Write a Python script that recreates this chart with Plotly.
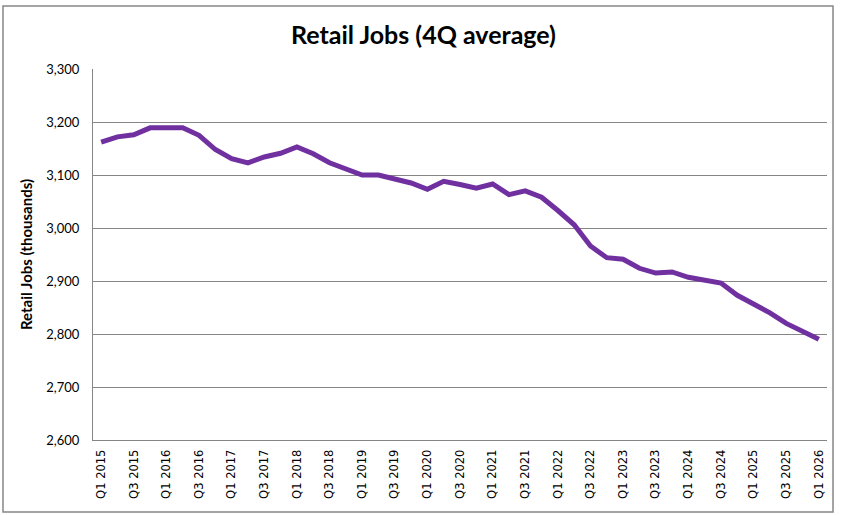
import plotly.graph_objects as go

# quarterly retail jobs, 4Q average (thousands)
quarters = [f"Q{q} {y}" for y in range(2015, 2027) for q in (1, 2, 3, 4)][:45]
jobs = [3162, 3172, 3176, 3189, 3189, 3189, 3175, 3148,
        3131, 3123, 3134, 3141, 3153, 3140, 3123, 3111,
        3100, 3100, 3093, 3085, 3073, 3088, 3082, 3075,
        3083, 3063, 3070, 3058, 3033, 3006, 2966, 2944,
        2941, 2924, 2915, 2917, 2907, 2902, 2896, 2873,
        2856, 2840, 2820, 2806, 2790]
tick_labels = quarters[::2]
y_ticks = list(range(2600, 3301, 100))

fig = go.Figure()
fig.add_trace(go.Scatter(x=quarters, y=jobs, mode="lines",
                         line=dict(color="#7030A0", width=5)))

# plot area is 93..827 px wide, 69..440 px tall
L, R, T, B = 93, 827, 69, 440
def px(x):
    return (x - L) / (R - L)
def py(y):
    return (B - y) / (B - T)

fig.update_layout(
    width=847, height=515,
    margin=dict(l=L, r=847 - R, t=T, b=515 - B),
    paper_bgcolor="white", plot_bgcolor="white",
    showlegend=False,
    font=dict(family="DejaVu Sans", color="#000000"),
    title=dict(text="<b>Retail Jobs (4Q average)</b>", x=0.5, xanchor="center",
               y=1 - 35 / 515, yanchor="middle",
               font=dict(family="Lato", size=25, color="#000000")),
    xaxis=dict(type="category", range=[-0.5, 44.5], tickvals=tick_labels,
               ticktext=tick_labels, tickangle=-90, showgrid=False,
               showline=True, linecolor="#868686", linewidth=1,
               ticks="", automargin=False, ticklabelstandoff=4,
               tickfont=dict(family="DejaVu Sans", size=11.5)),
    yaxis=dict(range=[2600, 3300], tickvals=y_ticks,
               ticktext=[f"{v:,}" for v in y_ticks],
               showgrid=True, gridcolor="#868686", gridwidth=1,
               showline=True, linecolor="#868686", linewidth=1,
               zeroline=False, ticks="", automargin=False,
               ticklabelstandoff=10,
               tickfont=dict(family="Lato", size=13),
               title=dict(text="<b>Retail Jobs (thousands)</b>", standoff=10,
                          font=dict(family="Lato", size=15))),
    shapes=[dict(type="rect", xref="paper", yref="paper",
                 x0=px(3), x1=px(833), y0=py(512), y1=py(6),
                 line=dict(color="#868686", width=1.5), layer="below")],
)

# drop the browser's default body margin so the chart sits at 0,0
fig.write_html("out.html", config={"displayModeBar": False},
               post_script="document.body.style.margin='0';")
